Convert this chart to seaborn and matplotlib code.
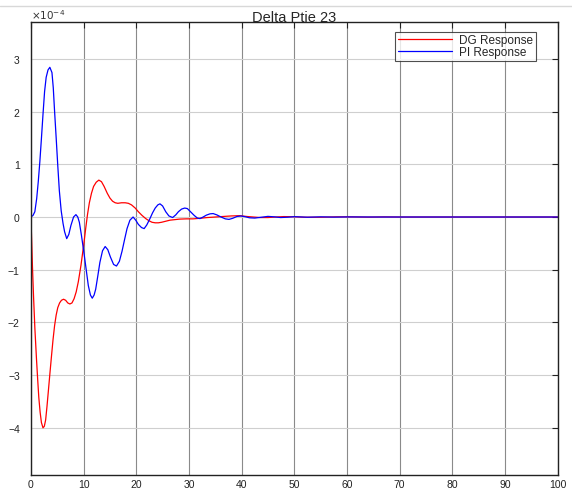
import matplotlib
matplotlib.use("Agg")
import matplotlib.pyplot as plt
import seaborn as sns
import pandas as pd
from matplotlib.lines import Line2D

# --- valeurs (unites de 1e-4) ---
t_dg = [0, 0.15, 0.3, 0.5, 0.75, 1.06, 1.3, 1.5, 1.75, 2.0, 2.3, 2.55, 2.8, 3.05,
        3.3, 3.6, 3.9, 4.2, 4.5, 4.8, 5.1, 5.45, 5.8, 6.2, 6.6, 7.0, 7.4, 7.8,
        8.2, 8.6, 9.0, 9.5, 10.0, 10.4, 10.75, 11.1, 11.5, 11.9, 12.4, 12.9,
        13.4, 13.9, 14.5, 15.0, 15.5, 16.0, 16.5, 17.2, 17.9, 18.5, 19.1, 19.8,
        20.4, 21.1, 21.8, 22.4, 23.0, 23.6, 24.2, 24.8, 25.6, 26.4, 27.3, 28.2,
        29.5, 30.8, 32.0, 33.5, 35.0, 36.5, 38.0, 39.6, 41.0, 42.2, 43.5, 45.0,
        46.5, 48.0, 50.0, 52.0, 55.0, 58.0, 61.0, 64.0, 67.0, 70.0, 100.0]
v_dg = [0, -0.45, -0.95, -1.5, -2.1, -2.69, -3.1, -3.42, -3.7, -3.9, -4.0, -3.97,
        -3.85, -3.6, -3.32, -2.98, -2.65, -2.33, -2.06, -1.86, -1.72, -1.63,
        -1.58, -1.56, -1.58, -1.63, -1.65, -1.63, -1.55, -1.42, -1.23, -0.92,
        -0.55, -0.22, 0.05, 0.27, 0.45, 0.58, 0.66, 0.70, 0.67, 0.58, 0.45, 0.36,
        0.30, 0.27, 0.26, 0.27, 0.27, 0.26, 0.23, 0.17, 0.10, 0.03, -0.03, -0.07,
        -0.10, -0.11, -0.11, -0.10, -0.08, -0.06, -0.05, -0.04, -0.035, -0.035,
        -0.025, -0.01, 0.0, 0.01, 0.02, 0.025, 0.01, 0.0, -0.01, -0.01, 0.0,
        0.008, 0.005, -0.004, -0.004, 0.003, 0.003, -0.002, 0.002, 0.0, 0.0]

t_pi = [0, 0.4, 0.75, 1.1, 1.4, 1.7, 2.0, 2.3, 2.6, 2.9, 3.25, 3.6, 4.0, 4.25,
        4.5, 4.8, 5.1, 5.4, 5.75, 6.1, 6.4, 6.8, 7.2, 7.6, 8.1, 8.55, 8.9, 9.2,
        9.6, 10.1, 10.5, 10.9, 11.3, 11.65, 12.0, 12.3, 12.7, 13.1, 13.6, 14.1,
        14.6, 15.1, 15.7, 16.25, 16.8, 17.3, 17.8, 18.25, 18.8, 19.4, 19.9, 20.4,
        21.0, 21.5, 22.0, 22.6, 23.1, 23.6, 24.1, 24.5, 25.0, 25.6, 26.2, 26.9,
        27.5, 28.0, 28.6, 29.2, 29.7, 30.3, 31.0, 31.6, 32.1, 32.7, 33.3, 34.0,
        34.6, 35.3, 36.1, 36.9, 37.6, 38.3, 39.1, 39.9, 40.7, 41.5, 42.5, 43.7,
        45.0, 46.2, 47.4, 48.7, 50.0, 52.5, 55.0, 57.5, 60.0, 65.0, 100.0]
v_pi = [0, 0.03, 0.10, 0.35, 0.67, 1.05, 1.49, 1.95, 2.38, 2.65, 2.79, 2.84,
        2.74, 2.45, 2.0, 1.5, 0.98, 0.5, 0.12, -0.12, -0.28, -0.41, -0.33, -0.16,
        0.0, 0.045, 0.0, -0.10, -0.35, -0.70, -1.0, -1.3, -1.48, -1.54, -1.48,
        -1.37, -1.12, -0.86, -0.64, -0.56, -0.62, -0.76, -0.90, -0.93, -0.84,
        -0.65, -0.42, -0.22, -0.06, 0.0, -0.06, -0.14, -0.20, -0.22, -0.15,
        -0.03, 0.08, 0.17, 0.23, 0.25, 0.21, 0.10, 0.02, -0.01, 0.04, 0.10, 0.15,
        0.17, 0.16, 0.10, 0.03, -0.02, -0.03, 0.0, 0.035, 0.06, 0.065, 0.04, 0.0,
        -0.035, -0.045, -0.025, 0.01, 0.02, 0.005, -0.015, -0.02, -0.005, 0.012,
        0.003, -0.01, -0.004, 0.006, -0.004, 0.003, -0.002, 0.0015, 0.0, 0.0]

x_ticks = list(range(0, 101, 10))
y_ticks = [-4, -3, -2, -1, 0, 1, 2, 3]

sns.set_style("white")
plt.rcParams["font.family"] = ["Liberation Sans", "DejaVu Sans"]

fig = plt.figure(figsize=(5.72, 4.89), dpi=100)
ax = fig.add_axes([0.054, 0.026, 0.921, 0.927])

df_dg = pd.DataFrame({"t": t_dg, "v": v_dg})
df_pi = pd.DataFrame({"t": t_pi, "v": v_pi})
sns.lineplot(data=df_dg, x="t", y="v", color="#ff0000", lw=0.9, sort=False,
             estimator=None, ax=ax, label="DG Response")
sns.lineplot(data=df_pi, x="t", y="v", color="#0000ff", lw=0.9, sort=False,
             estimator=None, ax=ax, label="PI Response")

ax.set_xlim(0, 100)
ax.set_ylim(-4.9, 3.7)
ax.set_xticks(x_ticks)
ax.set_yticks(y_ticks)
ax.set_xlabel("")
ax.set_ylabel("")
ax.xaxis.grid(True, color="#8a8a8a", lw=0.8)
ax.yaxis.grid(True, color="#cfcfcf", lw=0.8)
ax.set_axisbelow(True)
ax.tick_params(direction="in", length=4, width=0.8, top=True, right=True,
               labelsize=7.5, colors="#222222")
ax.tick_params(axis="y", pad=8)
ax.tick_params(axis="x", pad=3)
for s in ax.spines.values():
    s.set_color("#222222")
    s.set_linewidth(1.0)

ax.set_title("Delta Ptie 23", fontsize=10.5, pad=1)
ax.text(0.0, 1.003, r"$\times10^{-4}$", transform=ax.transAxes, fontsize=7.5,
        ha="left", va="bottom", color="#333333")

leg = ax.legend(loc="upper right", bbox_to_anchor=(0.958, 0.978), fontsize=8.5,
                frameon=True, fancybox=False, borderpad=0.2, handlelength=4.6,
                handletextpad=0.6, labelspacing=0.0, borderaxespad=0)
leg.get_frame().set_edgecolor("#222222")
leg.get_frame().set_linewidth(0.8)

# fine ligne grise du cadre de la capture
fig.add_artist(Line2D([0, 1], [0.986, 0.986], color="#d8d8d8", lw=1,
                      transform=fig.transFigure))

plt.savefig("out.png", dpi=100)
